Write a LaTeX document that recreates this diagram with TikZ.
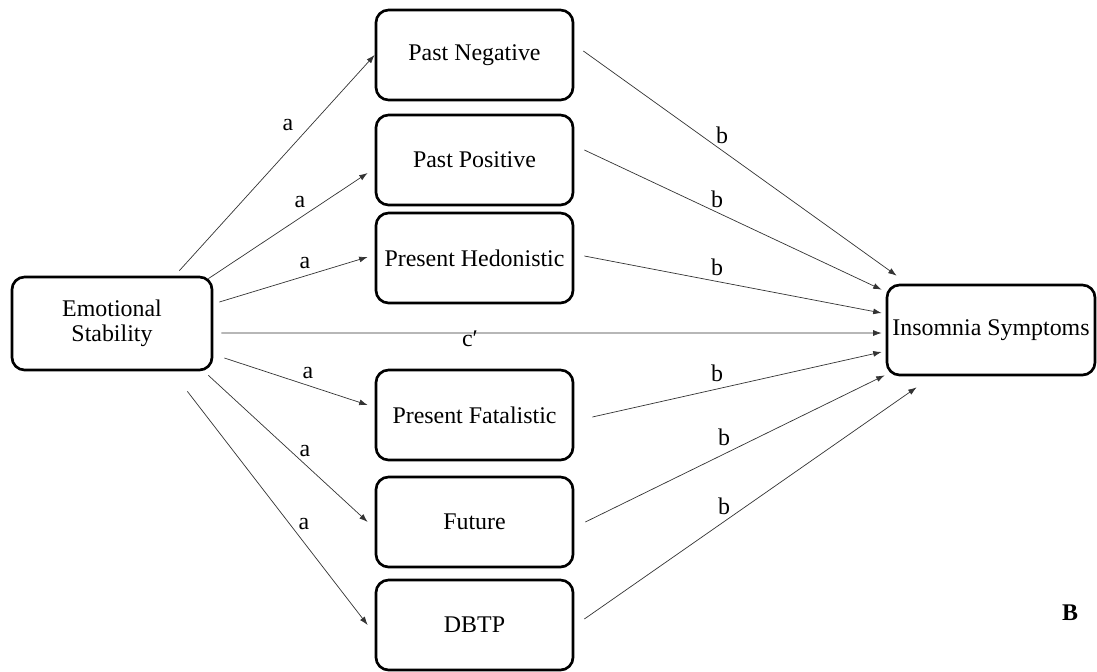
\documentclass[tikz,border=0pt]{standalone}
\usepackage{fontspec}
\setmainfont{Liberation Serif}
\usetikzlibrary{arrows.meta, calc}

\begin{document}
\begin{tikzpicture}[
    x=0.025cm, y=-0.025cm,
    var/.style={draw, line width=1.9pt, rounded corners=9pt, minimum width=4.925cm, minimum height=2.25cm, align=center, font=\fontsize{17}{17.5}\selectfont},
    arr/.style={-{Latex[length=6pt,width=4.2pt]}, line width=0.5pt, draw=black!80},
    lbl/.style={font=\fontsize{17}{18}\selectfont}
]
    \useasboundingbox (0,0) rectangle (1097,671);

    % predictor and outcome
    \node[var, minimum width=5cm, minimum height=2.325cm] (es) at (112,323.5) {Emotional\\Stability};
    \node[var, minimum width=5.2cm, inner sep=0pt] (ins) at (991,330) {Insomnia Symptoms};

    % mediators
    \node[var] (pn) at (474.5,55)  {Past Negative};
    \node[var] (pp) at (474.5,160) {Past Positive};
    \node[var] (ph) at (474.5,258) {Present Hedonistic};
    \node[var] (pf) at (474.5,415) {Present Fatalistic};
    \node[var] (fu) at (474.5,522) {Future};
    \node[var] (db) at (474.5,625) {DBTP};

    % a paths
    \draw[arr] ($(es.north east)+(-34,-5)$) -- (pn.west);
    \draw[arr] ($(es.north east)+(-5,3)$)   -- ($(pp.west)+(-7,13)$);
    \draw[arr] ($(es.east)+(6,-21.5)$)      -- ($(ph.west)+(-7,-1)$);
    \draw[arr] ($(es.east)+(11,34.5)$)      -- ($(pf.west)+(-7,-10)$);
    \draw[arr] ($(es.south east)+(-5,4)$)   -- ($(fu.west)+(-7,0)$);
    \draw[arr] ($(es.south east)+(-26,20)$) -- ($(db.west)+(-7,0)$);

    % direct path
    \draw[arr] ($(es.east)+(8,9.5)$) -- ($(ins.west)+(-4,3)$);

    % b paths
    \draw[arr] ($(pn.east)+(9,-4)$)  -- ($(ins.north west)+(11,-8)$);
    \draw[arr] ($(pp.east)+(10,-10)$) -- ($(ins.north west)+(-4,6)$);
    \draw[arr] ($(ph.east)+(10,-2)$) -- ($(ins.west)+(-4,-17)$);
    \draw[arr] ($(pf.east)+(18,2)$)  -- ($(ins.west)+(-4,22)$);
    \draw[arr] ($(fu.east)+(11,0)$)  -- ($(ins.south west)+(-1,-1)$);
    \draw[arr] ($(db.east)+(10,-6)$) -- ($(ins.south west)+(31,11)$);

    % path labels
    \node[lbl] (a1) at (288,125) {a};
    \node[lbl] (a2) at (300,202) {a};
    \node[lbl] (a3) at (305,263) {a};
    \node[lbl] (a4) at (308,373) {a};
    \node[lbl] (a5) at (305,451) {a};
    \node[lbl] (a6) at (304,524) {a};
    \node[lbl] (b1) at (722,135) {b};
    \node[lbl] (b2) at (717,199) {b};
    \node[lbl] (b3) at (717,267) {b};
    \node[lbl] (b4) at (717,373) {b};
    \node[lbl] (b5) at (724,437) {b};
    \node[lbl] (b6) at (724,506) {b};
    \node[lbl] (c)  at (470,339) {c′};

    % panel letter
    \node[lbl, font=\fontsize{17}{18}\selectfont\bfseries] (panel) at (1070,613) {B};
\end{tikzpicture}
\end{document}
